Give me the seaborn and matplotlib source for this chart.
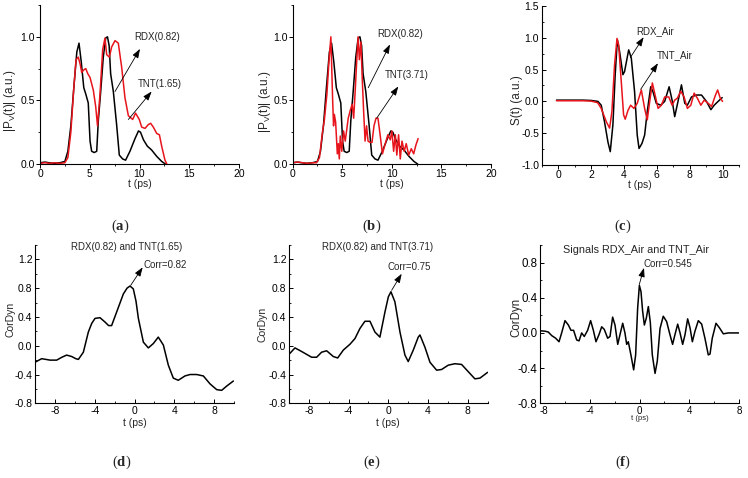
import numpy as np
import pandas as pd
import matplotlib
matplotlib.use("Agg")
import matplotlib.pyplot as plt
from matplotlib.ticker import MultipleLocator
from matplotlib import font_manager
import seaborn as sns

# ---------------- data ----------------
# (a)/(b) RDX(0.82) |P_V(t)|
rdx_t = [0, 0.5, 0.9, 1.4, 2.0, 2.5, 2.8, 3.1, 3.4, 3.7, 3.92, 4.15, 4.4, 4.6, 4.85, 5.03, 5.19, 5.45,
         5.7, 5.86, 6.1, 6.36, 6.6, 6.78, 6.95, 7.1, 7.37, 7.7, 7.97, 8.3, 8.6, 9.04, 9.55, 9.9, 10.1,
         10.4, 10.79, 11.22, 11.73, 12.23, 12.6]
rdx_v = [0.01, 0.015, 0.01, 0.005, 0.01, 0.02, 0.1, 0.3, 0.6, 0.88, 0.95, 0.8, 0.6, 0.55, 0.48, 0.18,
         0.10, 0.09, 0.10, 0.34, 0.57, 0.84, 0.99, 1.0, 0.93, 0.71, 0.57, 0.31, 0.07, 0.04, 0.03, 0.10,
         0.20, 0.26, 0.25, 0.19, 0.14, 0.11, 0.06, 0.02, 0.0]
# (a) TNT(1.65)
tnt165_t = [0, 0.5, 1.0, 1.5, 2.0, 2.5, 2.8, 3.1, 3.4, 3.62, 3.85, 4.05, 4.19, 4.4, 4.6, 4.8, 5.03, 5.36,
            5.6, 5.78, 6.03, 6.3, 6.53, 6.7, 6.97, 7.2, 7.54, 7.87, 8.21, 8.54, 8.88, 9.31, 9.6, 9.98,
            10.22, 10.55, 10.89, 11.12, 11.39, 11.73, 12.0, 12.23, 12.56, 12.75]
tnt165_v = [0.005, 0.01, 0.005, 0.01, 0.005, 0.01, 0.05, 0.25, 0.6, 0.82, 0.84, 0.78, 0.72, 0.74, 0.75,
            0.71, 0.68, 0.58, 0.45, 0.30, 0.55, 0.9, 0.99, 0.86, 0.84, 0.92, 0.97, 0.95, 0.76, 0.52,
            0.38, 0.35, 0.40, 0.35, 0.29, 0.28, 0.31, 0.32, 0.29, 0.24, 0.23, 0.14, 0.03, 0.0]
# (b) TNT(3.71)
tnt371_t = [0, 0.5, 1.0, 1.5, 2.0, 2.4, 2.7, 3.0, 3.2, 3.45, 3.65, 3.85, 4.03, 4.12, 4.2, 4.33, 4.5,
            4.6, 4.7, 4.8, 4.95, 5.13, 5.3, 5.45, 5.6, 5.8, 6.0, 6.15, 6.3, 6.45, 6.6, 6.72, 6.88, 7.0,
            7.15, 7.3, 7.45, 7.6, 7.8, 8.0, 8.2, 8.4, 8.6, 8.8, 9.05, 9.3, 9.6, 9.84, 10.0, 10.18,
            10.35, 10.5, 10.68, 10.85, 11.02, 11.25, 11.45, 11.7, 11.96, 12.2, 12.43, 12.65]
tnt371_v = [0.01, 0.015, 0.01, 0.005, 0.01, 0.01, 0.05, 0.25, 0.35, 0.55, 0.8, 1.0, 0.5, 0.3, 0.39,
            0.33, 0.08, 0.16, 0.04, 0.22, 0.10, 0.26, 0.18, 0.27, 0.36, 0.42, 0.47, 0.36, 0.57, 0.8,
            1.0, 0.82, 0.96, 0.7, 0.42, 0.18, 0.30, 0.18, 0.17, 0.17, 0.3, 0.36, 0.36, 0.24, 0.08,
            0.15, 0.23, 0.19, 0.26, 0.10, 0.23, 0.07, 0.23, 0.04, 0.18, 0.10, 0.16, 0.07, 0.12, 0.08,
            0.15, 0.20]
# (c) S(t)
rdxair_t = [-0.1, 0.5, 1.0, 1.5, 2.0, 2.42, 2.62, 2.82, 3.03, 3.17, 3.33, 3.47, 3.6, 3.74, 3.94, 4.04,
            4.29, 4.45, 4.65, 4.81, 4.92, 5.1, 5.26, 5.42, 5.63, 5.77, 5.97, 6.24, 6.48, 6.75, 6.93,
            7.09, 7.29, 7.5, 7.7, 7.86, 8.11, 8.41, 8.72, 9.02, 9.29, 9.49, 9.73, 9.98]
rdxair_v = [0.02, 0.02, 0.02, 0.02, 0.015, 0.0, -0.06, -0.32, -0.64, -0.79, -0.37, 0.42, 0.97, 0.78,
            0.42, 0.47, 0.81, 0.68, 0.15, -0.53, -0.74, -0.66, -0.53, -0.16, 0.23, 0.15, -0.03, -0.06,
            0.0, 0.23, 0.02, -0.24, 0.0, 0.26, -0.03, -0.06, 0.07, 0.1, 0.1, 0.0, -0.13, -0.06, 0.0, 0.06]
tntair_t = [-0.1, 0.5, 1.0, 1.5, 2.0, 2.4, 2.62, 2.93, 3.13, 3.27, 3.43, 3.58, 3.68, 3.84, 3.98, 4.08,
            4.25, 4.41, 4.61, 4.81, 5.06, 5.26, 5.42, 5.57, 5.73, 5.87, 6.08, 6.28, 6.48, 6.73, 6.93,
            7.09, 7.25, 7.46, 7.66, 7.86, 8.07, 8.27, 8.47, 8.68, 8.88, 9.13, 9.33, 9.57, 9.7, 9.86, 10.0]
tntair_v = [0.01, 0.01, 0.01, 0.01, 0.005, -0.02, -0.11, -0.32, -0.42, -0.16, 0.57, 0.99, 0.89, 0.31,
            -0.21, -0.28, -0.14, -0.06, -0.11, -0.03, 0.18, -0.11, -0.29, 0.0, 0.29, 0.13, -0.11, -0.06,
            0.07, 0.07, -0.06, 0.02, 0.05, 0.16, 0.07, -0.11, -0.06, 0.13, 0.05, -0.06, 0.02, -0.03,
            -0.08, 0.1, 0.18, 0.05, 0.0]
# (d) CorDyn RDX(0.82) and TNT(1.65)
cd1_t = [-10.0, -9.6, -9.33, -8.9, -8.49, -7.82, -7.3, -6.82, -6.31, -5.9, -5.64, -5.14, -4.64, -4.3,
         -3.97, -3.47, -2.97, -2.6, -2.3, -1.79, -1.12, -0.75, -0.45, -0.12, 0.15, 0.39, 0.89, 1.39,
         1.89, 2.39, 2.9, 3.4, 3.9, 4.4, 5.07, 5.58, 6.25, 6.92, 7.59, 8.26, 8.76, 9.27, 9.94]
cd1_v = [-0.23, -0.20, -0.18, -0.19, -0.20, -0.20, -0.16, -0.13, -0.15, -0.18, -0.19, -0.09, 0.19,
         0.31, 0.38, 0.39, 0.33, 0.28, 0.28, 0.47, 0.72, 0.80, 0.83, 0.79, 0.62, 0.38, 0.05, -0.03,
         0.03, 0.12, 0.01, -0.27, -0.45, -0.48, -0.42, -0.40, -0.40, -0.42, -0.53, -0.61, -0.62,
         -0.56, -0.49]
# (e) CorDyn RDX(0.82) and TNT(3.71)
cd2_t = [-10.0, -9.4, -8.73, -7.72, -7.22, -6.72, -6.21, -5.54, -5.1, -4.53, -3.87, -3.36, -2.86, -2.36,
         -1.85, -1.35, -0.85, -0.34, 0.0, 0.26, 0.66, 1.17, 1.67, 2.0, 2.51, 3.01, 3.18, 3.68, 4.19,
         4.86, 5.36, 6.03, 6.7, 7.37, 8.04, 8.71, 9.22, 9.99]
cd2_v = [-0.12, -0.03, -0.08, -0.16, -0.16, -0.09, -0.07, -0.15, -0.17, -0.06, 0.02, 0.1, 0.24, 0.34,
         0.34, 0.19, 0.12, 0.47, 0.68, 0.75, 0.61, 0.19, -0.13, -0.22, -0.06, 0.12, 0.15, -0.02, -0.23,
         -0.34, -0.33, -0.27, -0.25, -0.26, -0.36, -0.46, -0.45, -0.37]
# (f) CorDyn signals RDX_Air and TNT_Air
cd3_t = [-8.0, -7.6, -7.33, -7.06, -6.74, -6.47, -6.26, -5.99, -5.72, -5.51, -5.3, -5.05, -4.86, -4.65,
         -4.44, -4.17, -3.93, -3.71, -3.5, -3.26, -3.04, -2.83, -2.56, -2.37, -2.16, -1.97, -1.75,
         -1.57, -1.35, -1.17, -1.03, -0.9, -0.69, -0.47, -0.31, -0.15, -0.01, 0.12, 0.25, 0.39, 0.55,
         0.71, 0.87, 1.03, 1.25, 1.43, 1.65, 1.91, 2.18, 2.45, 2.66, 2.85, 3.07, 3.26, 3.47, 3.66,
         3.87, 4.06, 4.25, 4.46, 4.73, 5.0, 5.26, 5.53, 5.67, 5.85, 6.15, 6.42, 6.74, 7.14, 8.0]
cd3_v = [0.025, 0.02, 0.01, -0.03, -0.06, -0.10, 0.0, 0.14, 0.09, 0.03, 0.03, -0.08, -0.09, 0.0, -0.04,
         0.03, 0.14, 0.03, -0.10, -0.02, 0.07, 0.04, -0.06, -0.04, 0.18, 0.09, -0.13, -0.02, 0.11, 0.0,
         -0.13, -0.10, -0.25, -0.42, -0.25, 0.28, 0.54, 0.47, 0.25, 0.09, 0.17, 0.3, 0.12, -0.25,
         -0.46, -0.32, 0.05, 0.19, 0.13, -0.02, -0.13, -0.02, 0.1, 0.0, -0.13, -0.02, 0.16, 0.06,
         -0.10, 0.02, 0.14, 0.1, -0.06, -0.25, -0.24, -0.06, 0.11, 0.06, -0.01, 0.0, 0.0]

panel_letters = ["a", "b", "c", "d", "e", "f"]

# ---------------- style ----------------
sns.set_theme(style="ticks")
plt.rcParams["font.family"] = ["Liberation Sans", "DejaVu Sans"]
plt.rcParams["mathtext.fontset"] = "custom"
plt.rcParams["mathtext.bf"] = "Liberation Serif:bold"
plt.rcParams["mathtext.rm"] = "Liberation Serif"
plt.rcParams["axes.linewidth"] = 0.8
plt.rcParams["axes.unicode_minus"] = False

_names = {f.name for f in font_manager.fontManager.ttflist}
NARROW = "Liberation Sans Narrow" if "Liberation Sans Narrow" in _names else "Liberation Sans"

W, H = 748, 478
fig = plt.figure(figsize=(W / 100, H / 100), dpi=100)
fig.patch.set_facecolor("white")


def make_axes(left, right, top, bottom):
    return fig.add_axes([left / W, 1 - bottom / H, (right - left) / W, (bottom - top) / H])


def style(ax, xmaj, xmin, ymaj, ymin, fs=7, xfs=None, family=None, xdir="out", ydir="out"):
    for s in ["top", "right"]:
        ax.spines[s].set_visible(False)
    for s in ["left", "bottom"]:
        ax.spines[s].set_color("black")
        ax.spines[s].set_linewidth(0.8)
    ax.set_facecolor("white")
    ax.xaxis.set_major_locator(MultipleLocator(xmaj))
    ax.xaxis.set_minor_locator(MultipleLocator(xmin))
    ax.yaxis.set_major_locator(MultipleLocator(ymaj))
    ax.yaxis.set_minor_locator(MultipleLocator(ymin))
    for axis, d, size in (("x", xdir, xfs or fs), ("y", ydir, fs)):
        ax.tick_params(axis=axis, which="major", direction=d, length=2.6, width=0.7,
                       pad=1.0 if d == "out" else 1.8, color="black", labelcolor="black",
                       labelsize=size)
        ax.tick_params(axis=axis, which="minor", direction=d, length=1.5, width=0.6, color="black")
    if family:
        for lab in ax.get_xticklabels() + ax.get_yticklabels():
            lab.set_family(family)
    ax.grid(False)


def line(ax, x, y, color):
    df = pd.DataFrame({"t": x, "v": y})
    sns.lineplot(data=df, x="t", y="v", ax=ax, color=color, lw=1.1, sort=False,
                 estimator=None, legend=False)


def arrow(ax, tail, head):
    ax.annotate("", xy=head, xytext=tail,
                arrowprops=dict(arrowstyle="-|>,head_length=0.45,head_width=0.16",
                                color="black", lw=0.6, shrinkA=0, shrinkB=0))


RED = "#e8141c"
fs_ann = 7
PV = r"|P$_\mathregular{V}$(t)| (a.u.)"

# (a)
ax = make_axes(40, 239, 5, 164)
line(ax, rdx_t, rdx_v, "black")
line(ax, tnt165_t, tnt165_v, RED)
ax.set_xlim(0, 20); ax.set_ylim(0, 1.25)
style(ax, 5, 2.5, 0.5, 0.25, fs=7.5, family=NARROW)
ax.set_yticks([0, 0.5, 1.0])
for lab in ax.get_yticklabels():
    lab.set_family(NARROW)
ax.set_xlabel("t (ps)", fontsize=7.5); ax.set_ylabel(PV, fontsize=8.5)
ax.xaxis.set_label_coords(0.5, -0.094); ax.yaxis.set_label_coords(-0.112, 0.40)
arrow(ax, (7.54, 0.57), (10.05, 0.905))
ax.text(9.5, 1.0, "RDX(0.82)", fontsize=fs_ann, va="center", ha="left")
arrow(ax, (8.88, 0.35), (11.22, 0.57))
ax.text(9.85, 0.63, "TNT(1.65)", fontsize=fs_ann, va="center", ha="left")

# (b)
ax = make_axes(292.7, 491, 5, 164)
line(ax, rdx_t, rdx_v, "black")
line(ax, tnt371_t, tnt371_v, RED)
ax.set_xlim(0, 20); ax.set_ylim(0, 1.25)
style(ax, 5, 2.5, 0.5, 0.25, fs=7.5, family=NARROW)
ax.set_yticks([0, 0.5, 1.0])
for lab in ax.get_yticklabels():
    lab.set_family(NARROW)
ax.set_xlabel("t (ps)", fontsize=7.5); ax.set_ylabel(PV, fontsize=8.5)
ax.xaxis.set_label_coords(0.5, -0.094); ax.yaxis.set_label_coords(-0.1, 0.39)
arrow(ax, (7.62, 0.60), (9.81, 0.94))
ax.text(8.57, 1.02, "RDX(0.82)", fontsize=fs_ann, va="center", ha="left")
arrow(ax, (8.47, 0.36), (10.65, 0.61))
ax.text(9.3, 0.70, "TNT(3.71)", fontsize=fs_ann, va="center", ha="left")

# (c)
ax = make_axes(541.7, 739, 6, 165)
line(ax, rdxair_t, rdxair_v, "black")
line(ax, tntair_t, tntair_v, RED)
ax.set_xlim(-1, 11); ax.set_ylim(-1.0, 1.5)
style(ax, 2, 1, 0.5, 0.25, fs=7.5, family=NARROW, xdir="out", ydir="in")
ax.set_xticks([0, 2, 4, 6, 8, 10])
for lab in ax.get_xticklabels() + ax.get_yticklabels():
    lab.set_family(NARROW)
ax.set_xlabel("t (ps)", fontsize=7.5); ax.set_ylabel("S(t) (a.u.)", fontsize=8.5)
ax.xaxis.set_label_coords(0.5, -0.094); ax.yaxis.set_label_coords(-0.096, 0.41)
arrow(ax, (4.39, 0.69), (5.2, 1.01))
ax.text(4.76, 1.1, "RDX_Air", fontsize=fs_ann, va="center", ha="left")
arrow(ax, (5.02, 0.19), (6.07, 0.60))
ax.text(5.97, 0.73, "TNT_Air", fontsize=fs_ann, va="center", ha="left")

# (d)
ax = make_axes(35, 234, 245, 403.3)
line(ax, cd1_t, cd1_v, "black")
ax.set_xlim(-10, 10); ax.set_ylim(-0.8, 1.4)
style(ax, 4, 2, 0.4, 0.2, fs=7.5, xdir="in", ydir="in")
ax.set_yticks([-0.8, -0.4, 0.0, 0.4, 0.8, 1.2])
ax.set_xlabel("t (ps)", fontsize=7.5); ax.set_ylabel("CorDyn", fontsize=7.5)
ax.xaxis.set_label_coords(0.5, -0.091); ax.yaxis.set_label_coords(-0.10, 0.53)
ax.text(0.46, 0.985, "RDX(0.82) and TNT(1.65)", transform=ax.transAxes, fontsize=7,
        ha="center", va="center")
arrow(ax, (-0.38, 0.84), (0.82, 1.09))
ax.text(0.95, 1.12, "Corr=0.82", fontsize=fs_ann, va="center", ha="left")

# (e)
ax = make_axes(289, 487.7, 245, 403.3)
line(ax, cd2_t, cd2_v, "black")
ax.set_xlim(-10, 10); ax.set_ylim(-0.8, 1.4)
style(ax, 4, 2, 0.4, 0.2, fs=7.5, xdir="in", ydir="in")
ax.set_yticks([-0.8, -0.4, 0.0, 0.4, 0.8, 1.2])
ax.set_xlabel("t (ps)", fontsize=7.5); ax.set_ylabel("CorDyn", fontsize=7.5)
ax.xaxis.set_label_coords(0.5, -0.091); ax.yaxis.set_label_coords(-0.109, 0.50)
ax.text(0.445, 0.985, "RDX(0.82) and TNT(3.71)", transform=ax.transAxes, fontsize=7,
        ha="center", va="center")
arrow(ax, (0.33, 0.77), (1.34, 1.0))
ax.text(-0.07, 1.09, "Corr=0.75", fontsize=fs_ann, va="center", ha="left")

# (f)
ax = make_axes(540, 739, 245, 403.3)
line(ax, cd3_t, cd3_v, "black")
ax.set_xlim(-8, 8); ax.set_ylim(-0.8, 1.0)
style(ax, 4, 2, 0.4, 0.2, fs=8.3, xfs=7, xdir="in", ydir="in")
ax.set_yticks([-0.8, -0.4, 0.0, 0.4, 0.8])
ax.set_xticks([-8, -4, 0, 4, 8])
ax.get_xticklabels()[0].set_horizontalalignment("left")
ax.set_xlabel("t (ps)", fontsize=5.5); ax.set_ylabel("CorDyn", fontsize=8.3)
ax.xaxis.set_label_coords(0.5, -0.074); ax.yaxis.set_label_coords(-0.087, 0.54)
ax.text(0.48, 0.97, "Signals RDX_Air and TNT_Air", transform=ax.transAxes, fontsize=7.8,
        ha="center", va="center")
arrow(ax, (-0.02, 0.55), (0.36, 0.74))
ax.text(0.36, 0.78, "Corr=0.545", fontsize=fs_ann, va="center", ha="left")

# panel letters
letter_pos = [(120, 226), (372, 226), (623, 226), (122, 462), (372, 462), (623, 462)]
for (px, py), letter in zip(letter_pos, panel_letters):
    fig.text(px / W, 1 - py / H, r"($\mathbf{" + letter + r"}$)", fontsize=10.5,
             ha="center", va="center", family="Liberation Serif")

fig.savefig("out.png", dpi=100, facecolor="white")
